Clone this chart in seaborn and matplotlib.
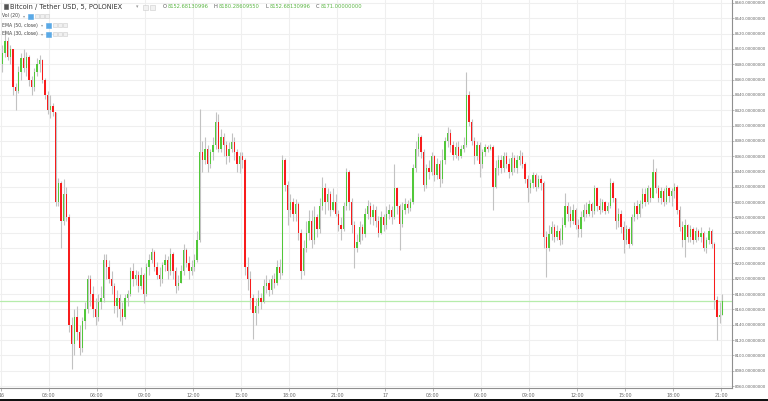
import numpy as np
import pandas as pd
import matplotlib
matplotlib.use("Agg")
import matplotlib.pyplot as plt
from matplotlib.patches import Rectangle
import seaborn as sns

# BTC / USDT on Poloniex, read off the chart as 10-minute candles
# from the 16th 00:00 to the 17th 21:00 (open = previous close)
first_open = 8480.0

close = [
    8495, 8510, 8490, 8500, 8450, 8445, 8470, 8488, 8475, 8490,
    8460, 8450, 8470, 8480, 8485, 8460, 8440, 8420, 8425, 8418,
    8300, 8325, 8275, 8310, 8280, 8140, 8115, 8150, 8130, 8110,
    8145, 8160, 8200, 8180, 8160, 8150, 8170, 8175, 8225, 8215,
    8200, 8190, 8165, 8175, 8160, 8150, 8175, 8180, 8210, 8200,
    8205, 8190, 8205, 8180, 8215, 8225, 8235, 8215, 8205, 8200,
    8218, 8225, 8210, 8232, 8210, 8190, 8195, 8210, 8238, 8220,
    8210, 8215, 8225, 8250, 8365, 8355, 8370, 8350, 8365, 8375,
    8405, 8370, 8385, 8375, 8360, 8370, 8378, 8365, 8350, 8360,
    8355, 8215, 8200, 8175, 8155, 8165, 8175, 8170, 8190, 8195,
    8185, 8200, 8195, 8215, 8208, 8355, 8322, 8290, 8300, 8285,
    8298, 8260, 8210, 8240, 8260, 8275, 8250, 8280, 8265, 8295,
    8318, 8300, 8310, 8290, 8300, 8285, 8270, 8265, 8295, 8340,
    8300, 8270, 8240, 8248, 8268, 8258, 8285, 8295, 8280, 8290,
    8275, 8260, 8280, 8270, 8285, 8290, 8280, 8318, 8295, 8272,
    8290, 8298, 8292, 8300, 8345, 8370, 8385, 8365, 8322, 8345,
    8340, 8360, 8335, 8350, 8330, 8355, 8380, 8390, 8375, 8362,
    8372, 8360, 8370, 8375, 8440, 8405, 8380, 8360, 8375, 8350,
    8365, 8372, 8370, 8372, 8320, 8345, 8355, 8345, 8360, 8350,
    8340, 8358, 8345, 8355, 8360, 8350, 8330, 8318, 8325, 8335,
    8320, 8330, 8325, 8255, 8240, 8258, 8268, 8255, 8262, 8250,
    8270, 8295, 8285, 8275, 8290, 8270, 8265, 8280, 8290, 8285,
    8298, 8288, 8318, 8295, 8290, 8300, 8288, 8295, 8325, 8305,
    8275, 8285, 8268, 8250, 8265, 8245, 8280, 8295, 8285, 8298,
    8310, 8300, 8318, 8305, 8340, 8318, 8305, 8315, 8300, 8318,
    8308, 8315, 8320, 8290, 8268, 8250, 8270, 8255, 8265, 8250,
    8262, 8255, 8260, 8240, 8250, 8262, 8245, 8172, 8150, 8152.68,
    8171,
]

high = [
    8505, 8525, 8515, 8505, 8500, 8455, 8478, 8495, 8500, 8496,
    8492, 8465, 8475, 8488, 8492, 8487, 8462, 8445, 8440, 8430,
    8418, 8332, 8328, 8330, 8320, 8285, 8150, 8160, 8165, 8140,
    8150, 8170, 8205, 8205, 8190, 8175, 8180, 8190, 8232, 8232,
    8225, 8210, 8195, 8185, 8180, 8170, 8180, 8185, 8215, 8220,
    8212, 8210, 8215, 8208, 8220, 8232, 8240, 8238, 8222, 8215,
    8222, 8232, 8230, 8240, 8235, 8215, 8205, 8218, 8245, 8240,
    8230, 8225, 8232, 8262, 8422, 8380, 8385, 8375, 8370, 8385,
    8418, 8415, 8395, 8390, 8380, 8378, 8390, 8385, 8370, 8365,
    8365, 8358, 8228, 8210, 8180, 8175, 8185, 8182, 8200, 8205,
    8200, 8205, 8208, 8225, 8226, 8362, 8358, 8328, 8310, 8305,
    8304, 8300, 8265, 8250, 8275, 8290, 8290, 8295, 8285, 8305,
    8333, 8325, 8318, 8315, 8318, 8310, 8290, 8280, 8300, 8345,
    8342, 8305, 8275, 8258, 8275, 8272, 8292, 8303, 8300, 8298,
    8295, 8282, 8288, 8285, 8295, 8298, 8295, 8350, 8320, 8298,
    8300, 8305, 8303, 8305, 8350, 8380, 8390, 8388, 8370, 8350,
    8355, 8365, 8362, 8358, 8355, 8370, 8385, 8398, 8395, 8380,
    8378, 8380, 8375, 8385, 8470, 8445, 8408, 8385, 8380, 8378,
    8370, 8376, 8375, 8376, 8374, 8355, 8362, 8362, 8366, 8365,
    8358, 8365, 8362, 8362, 8368, 8365, 8352, 8335, 8330, 8340,
    8338, 8336, 8335, 8328, 8262, 8270, 8276, 8272, 8270, 8266,
    8280, 8312, 8300, 8295, 8298, 8292, 8278, 8288, 8298, 8300,
    8303, 8300, 8322, 8320, 8305, 8304, 8302, 8300, 8332, 8328,
    8305, 8292, 8290, 8275, 8270, 8268, 8285, 8300, 8303, 8303,
    8318, 8318, 8322, 8320, 8356, 8345, 8322, 8320, 8318, 8322,
    8320, 8318, 8325, 8322, 8295, 8275, 8278, 8272, 8270, 8268,
    8268, 8265, 8267, 8262, 8255, 8268, 8265, 8248, 8178, 8170,
    8180.29,
]

low = [
    8470, 8490, 8485, 8480, 8440, 8420, 8442, 8460, 8470, 8465,
    8452, 8440, 8445, 8465, 8470, 8455, 8435, 8415, 8410, 8412,
    8295, 8295, 8240, 8270, 8275, 8130, 8082, 8100, 8120, 8100,
    8105, 8135, 8155, 8165, 8150, 8140, 8145, 8160, 8170, 8200,
    8195, 8180, 8155, 8150, 8145, 8140, 8148, 8165, 8178, 8190,
    8192, 8183, 8186, 8168, 8178, 8205, 8220, 8210, 8200, 8190,
    8195, 8210, 8200, 8205, 8200, 8182, 8185, 8195, 8205, 8215,
    8200, 8205, 8210, 8222, 8248, 8340, 8350, 8340, 8345, 8355,
    8370, 8365, 8365, 8360, 8350, 8352, 8365, 8355, 8340, 8338,
    8345, 8205, 8185, 8160, 8122, 8140, 8155, 8160, 8168, 8182,
    8178, 8180, 8188, 8192, 8200, 8205, 8315, 8270, 8280, 8275,
    8275, 8250, 8200, 8205, 8235, 8250, 8240, 8245, 8255, 8260,
    8290, 8285, 8290, 8282, 8288, 8282, 8262, 8250, 8262, 8290,
    8290, 8260, 8214, 8235, 8245, 8250, 8255, 8278, 8272, 8270,
    8268, 8255, 8258, 8262, 8265, 8278, 8272, 8278, 8285, 8238,
    8268, 8285, 8286, 8288, 8298, 8340, 8360, 8358, 8315, 8318,
    8330, 8335, 8328, 8330, 8320, 8325, 8350, 8372, 8365, 8355,
    8358, 8355, 8358, 8365, 8372, 8400, 8375, 8350, 8355, 8333,
    8345, 8360, 8365, 8368, 8290, 8318, 8335, 8338, 8340, 8345,
    8332, 8335, 8340, 8338, 8348, 8345, 8325, 8300, 8312, 8318,
    8315, 8318, 8316, 8240, 8202, 8236, 8250, 8248, 8250, 8244,
    8245, 8268, 8275, 8268, 8272, 8265, 8254, 8255, 8275, 8280,
    8282, 8280, 8285, 8288, 8285, 8287, 8285, 8286, 8292, 8300,
    8265, 8268, 8260, 8234, 8245, 8240, 8244, 8275, 8278, 8280,
    8293, 8295, 8298, 8300, 8305, 8312, 8300, 8298, 8295, 8298,
    8300, 8295, 8305, 8285, 8262, 8242, 8228, 8248, 8248, 8246,
    8248, 8250, 8248, 8236, 8233, 8245, 8240, 8160, 8120, 8142,
    8152.68,
]

x_tick_labels = ["16", "03:00", "06:00", "09:00", "12:00", "15:00", "18:00", "21:00",
                 "17", "03:00", "06:00", "09:00", "12:00", "15:00", "18:00", "21:00"]
y_ticks = list(range(8060, 8561, 20))
last_price = 8171.0
ohlc_text = [("O", "8152.68130996"), ("H", "8180.28609550"),
             ("L", "8152.68130996"), ("C", "8171.00000000")]
study_names = ["Vol (20)", "EMA (50, close)", "EMA (30, close)"]

UP = "#52c83a"
DOWN = "#f81c1c"
WICK = "#c2c2c2"

df = pd.DataFrame({"close": close, "high": high, "low": low})
df["minute"] = np.arange(len(df)) * 10 + 5
df["open"] = [first_open] + close[:-1]
df["high"] = df[["high", "open", "close"]].max(axis=1)
df["low"] = df[["low", "open", "close"]].min(axis=1)
df["up"] = df["close"] >= df["open"]

sns.set_theme(style="white")
plt.rcParams["font.family"] = ["DejaVu Sans"]

W, H = 768, 401
fig = plt.figure(figsize=(W / 100, H / 100), dpi=100)
ax = fig.add_axes([0, 13 / H, 732 / W, 388 / H])

# gridlines
ax.set_axisbelow(True)
ax.grid(True, color="#efefef", linewidth=0.8)

# wicks then bodies
ax.vlines(df["minute"], df["low"], df["high"], color=WICK, linewidth=0.8, zorder=2)
body_bottom = df[["open", "close"]].min(axis=1)
body_height = (df["close"] - df["open"]).abs().clip(lower=1.0)
ax.bar(df["minute"], body_height, bottom=body_bottom, width=5.5,
       color=np.where(df["up"], UP, DOWN), linewidth=0, zorder=3)

# last price line
ax.axhline(last_price, color="#b6ecab", linewidth=0.9, zorder=1)

ax.set_xlim(-3.75, 2741)
ax.set_ylim(8057.4, 8563.9)

ax.set_xticks(np.arange(len(x_tick_labels)) * 180)
ax.set_xticklabels(x_tick_labels)
ax.set_yticks(y_ticks)
ax.set_yticklabels([f"{v:.8f}" for v in y_ticks])
ax.yaxis.tick_right()
ax.tick_params(axis="y", length=1.5, width=0.5, color="#999999", pad=0.8,
               labelsize=2.9, labelcolor="#666666", right=True, left=False)
ax.tick_params(axis="x", length=2, width=0.5, color="#999999", pad=1.5,
               labelsize=3.4, labelcolor="#666666", bottom=True)

for side in ["left", "top"]:
    ax.spines[side].set_visible(False)
for side in ["right", "bottom"]:
    ax.spines[side].set_color("#8f8f8f")
    ax.spines[side].set_linewidth(0.8)


def fx(px):
    return px / W


def fy(py):
    return 1 - py / H


def box(x, y, w, h, color, edge=None):
    fig.patches.append(Rectangle((fx(x), fy(y + h)), w / W, h / H, transform=fig.transFigure,
                                 facecolor=color, edgecolor=edge or color, linewidth=0.4,
                                 zorder=5))


# header
box(4, 4, 4, 5, "#555555")
fig.text(fx(10), fy(7), "Bitcoin / Tether USD, 5, POLONIEX", fontsize=4.8, color="#333333",
         va="center", ha="left")
fig.text(fx(136), fy(7), "\u25be", fontsize=3.5, color="#999999", va="center")
box(143, 5, 5, 5, "#f2f2f2", "#cccccc")
box(150, 5, 5, 5, "#f2f2f2", "#cccccc")
for i, (k, v) in enumerate(ohlc_text):
    x0 = 163 + i * 51
    fig.text(fx(x0), fy(7), k, fontsize=3.7, color="#555555", va="center", ha="left")
    fig.text(fx(x0 + 4.5), fy(7), v, fontsize=3.7, color="#5cb645", va="center", ha="left")

# study legend lines
study_icon_x = [28, 46, 46]
for i, name in enumerate(study_names):
    yy = 16 + i * 9
    fig.text(fx(2), fy(yy), name, fontsize=3.3, color="#444444", va="center", ha="left")
    ix = study_icon_x[i]
    fig.text(fx(ix - 5), fy(yy), "\u25be", fontsize=3, color="#999999", va="center")
    box(ix, yy - 2.5, 5, 5, "#5aa9e6")
    for j in range(3):
        box(ix + 7 + j * 5, yy - 2, 3.5, 4, "#f0f0f0", "#cccccc")

# dark strip at the bottom edge
fig.patches.append(Rectangle((0, 0), 1, 2.5 / H, transform=fig.transFigure,
                             facecolor="#111111", edgecolor="none", zorder=5))

fig.savefig("out.png", dpi=100)
